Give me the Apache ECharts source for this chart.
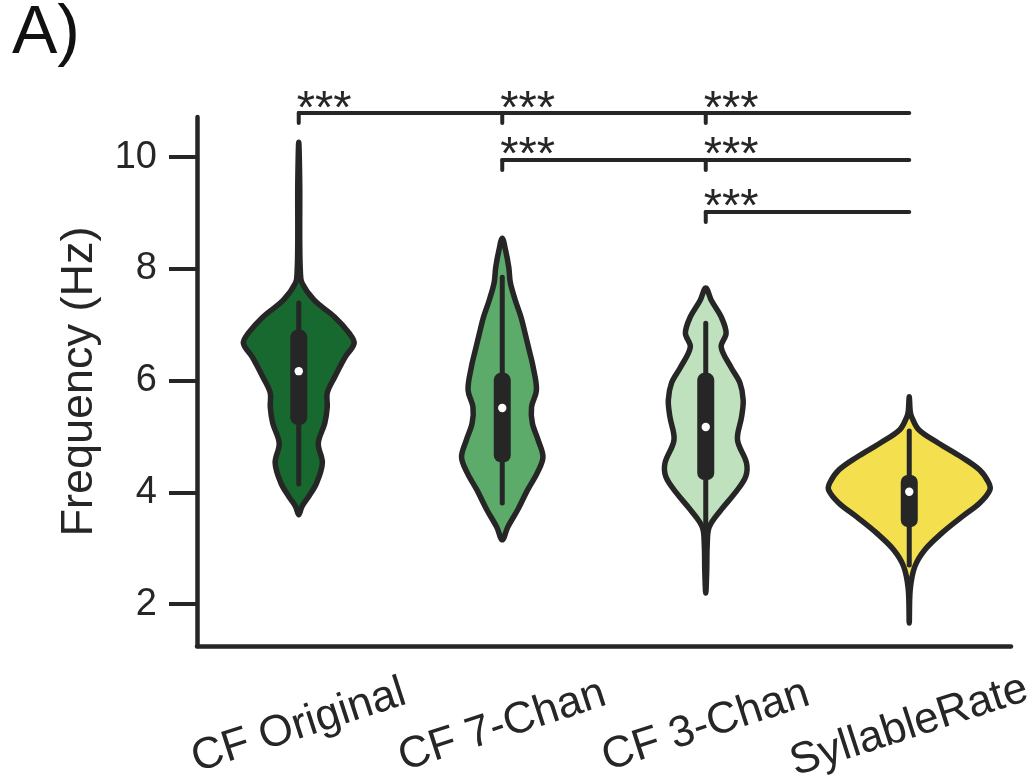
<!DOCTYPE html>
<html><head><meta charset="utf-8">
<script src="https://cdn.jsdelivr.net/npm/echarts@6/dist/echarts.min.js"></script>
<style>html,body{margin:0;padding:0;background:#fff}#c{width:1029px;height:777px}</style>
</head><body><div id="c"></div>
<script>
// ---------- data ----------
const categories = ['CF Original', 'CF 7-Chan', 'CF 3-Chan', 'SyllableRate'];
const yTicks = [2, 4, 6, 8, 10];

// violin density profiles (value level, relative density)
const origLevels   = [10.27, 9.5, 8.5, 7.95, 7.75, 7.44, 7.14, 6.85, 6.67, 6.42, 6.06, 5.78, 5.53, 5.24, 4.88, 4.53, 4.17, 3.92, 3.75, 3.60];
const origDensity  = [0, 0.012, 0.012, 0.02, 0.04, 0.19, 0.44, 0.62, 0.68, 0.57, 0.44, 0.35, 0.35, 0.32, 0.24, 0.29, 0.22, 0.12, 0.04, 0];
const chan7Levels  = [8.55, 8.34, 8.03, 7.75, 7.44, 7.14, 6.85, 6.55, 6.24, 5.83, 5.53, 5.24, 4.94, 4.63, 4.35, 4.04, 3.69, 3.38, 3.15];
const chan7Density = [0, 0.04, 0.08, 0.10, 0.16, 0.23, 0.28, 0.33, 0.38, 0.42, 0.36, 0.37, 0.44, 0.50, 0.43, 0.31, 0.19, 0.068, 0];
const chan3Levels  = [7.66, 7.44, 7.14, 6.85, 6.60, 6.24, 5.96, 5.65, 5.35, 4.94, 4.53, 4.28, 3.99, 3.69, 3.38, 3.06, 2.60, 2.20];
const chan3Density = [0, 0.068, 0.19, 0.25, 0.19, 0.31, 0.42, 0.46, 0.44, 0.39, 0.50, 0.49, 0.36, 0.19, 0.043, 0.018, 0.012, 0];
const syllLevels   = [5.71, 5.45, 5.35, 5.12, 4.88, 4.63, 4.40, 4.17, 4.04, 3.81, 3.56, 3.27, 2.97, 2.67, 2.26, 1.66];
const syllDensity  = [0, 0.012, 0.03, 0.117, 0.36, 0.645, 0.866, 0.977, 0.99, 0.866, 0.645, 0.40, 0.19, 0.068, 0.012, 0];

// inner box statistics
const whiskerLow  = [4.15, 3.81, 3.35, 2.70];
const quart1      = [5.21, 4.54, 4.22, 3.38];
const medians     = [6.17, 5.51, 5.17, 4.01];
const quart3      = [6.91, 6.14, 6.14, 4.31];
const whiskerHigh = [7.39, 7.85, 7.03, 5.10];

// significance brackets
const bracketLevel = [10.79, 9.95, 9.02];
const bracketStart = [0, 1, 2];
const bracketEnd   = [3, 3, 3];
const starText = '***';

// ---------- styles ----------
const fills = ['#18692f', '#5dab6b', '#bfe1be', '#f4df4f'];
const ink = '#262626';
const FONT = '"Liberation Sans", Arial, sans-serif';

const levelsAll = [origLevels, chan7Levels, chan3Levels, syllLevels];
const densAll = [origDensity, chan7Density, chan3Density, syllDensity];

const chart = echarts.init(document.getElementById('c'), null, {renderer: 'canvas'});

function violinItem(params, api) {
  const i = api.value(0);
  const lv = levelsAll[i], dn = densAll[i];
  const band = api.size([1, 0])[0];
  const scale = band * 0.4;
  const cx = api.coord([i, 0])[0];
  const right = [], left = [];
  for (let k = 0; k < lv.length; k++) {
    const y = api.coord([i, lv[k]])[1];
    const w = dn[k] * scale;
    right.push([cx + w, y]);
    if (k > 0 && k < lv.length - 1) left.unshift([cx - w, y]);
  }
  return {
    type: 'polygon',
    shape: {points: right.concat(left), smooth: 0.35},
    style: {fill: fills[i], stroke: ink, lineWidth: 5.5, lineJoin: 'round'}
  };
}

function boxItem(params, api) {
  const i = api.value(0);
  const lo = api.coord([i, whiskerLow[i]]);
  const hi = api.coord([i, whiskerHigh[i]]);
  const q1 = api.coord([i, quart1[i]]);
  const q3 = api.coord([i, quart3[i]]);
  const md = api.coord([i, medians[i]]);
  const bw = 17;
  return {
    type: 'group',
    children: [
      {type: 'line', shape: {x1: lo[0], y1: lo[1], x2: hi[0], y2: hi[1]}, style: {stroke: ink, lineWidth: 5, lineCap: 'round'}},
      {type: 'rect', shape: {x: q3[0] - bw / 2, y: q3[1], width: bw, height: q1[1] - q3[1], r: 7}, style: {fill: ink}},
      {type: 'circle', shape: {cx: md[0], cy: md[1], r: 4.2}, style: {fill: '#ffffff'}}
    ]
  };
}

function bracketItem(params, api) {
  const s = api.value(0), e = api.value(1), lvl = api.value(2);
  const p0 = api.coord([s, lvl]);
  const p1 = api.coord([e, lvl]);
  const drop = 10;
  const children = [
    {type: 'line', shape: {x1: p0[0], y1: p0[1], x2: p1[0], y2: p1[1]}, style: {stroke: ink, lineWidth: 4, lineCap: 'round'}}
  ];
  for (let t = s; t < e; t++) {
    const pt = api.coord([t, lvl]);
    children.push({type: 'line', shape: {x1: pt[0], y1: pt[1], x2: pt[0], y2: pt[1] + drop}, style: {stroke: ink, lineWidth: 4, lineCap: 'round'}});
    children.push({type: 'text', style: {text: starText, x: pt[0] - 2, y: pt[1] + 20, textAlign: 'left', textVerticalAlign: 'bottom', font: '47px ' + FONT, fill: ink}});
  }
  return {type: 'group', children};
}

const option = {
  animation: false,
  backgroundColor: '#ffffff',
  grid: {left: 197, right: 18, top: 117, bottom: 131, containLabel: false, outerBoundsMode: 'none'},
  graphic: [{type: 'text', left: 12, top: 0, style: {text: 'A)', font: '68px ' + FONT, fill: '#111111'}}],
  xAxis: {
    type: 'category', data: categories, boundaryGap: true,
    axisLine: {lineStyle: {color: ink, width: 4.5}},
    axisTick: {show: false},
    axisLabel: {rotate: 18, align: 'center', verticalAlign: 'middle', margin: 80, fontSize: 44, fontFamily: FONT, color: ink, interval: 0}
  },
  yAxis: {
    type: 'value', min: 1.25, max: 10.72,
    name: 'Frequency (Hz)', nameLocation: 'middle', nameGap: 95,
    nameTextStyle: {fontSize: 45, fontFamily: FONT, color: ink},
    splitLine: {show: false},
    axisLine: {show: true, lineStyle: {color: ink, width: 4.5}},
    axisTick: {show: true, length: 28, lineStyle: {color: ink, width: 4}, customValues: yTicks},
    axisLabel: {fontSize: 38, fontFamily: FONT, color: ink, margin: 40, customValues: yTicks}
  },
  series: [
    {type: 'custom', coordinateSystem: 'cartesian2d', renderItem: violinItem, data: categories.map((c, i) => [i, medians[i]]), encode: {x: 0, y: 1}, clip: false, z: 2},
    {type: 'custom', coordinateSystem: 'cartesian2d', renderItem: boxItem, data: categories.map((c, i) => [i, medians[i]]), encode: {x: 0, y: 1}, clip: false, z: 3},
    {type: 'custom', coordinateSystem: 'cartesian2d', renderItem: bracketItem, data: bracketLevel.map((l, i) => [bracketStart[i], bracketEnd[i], l]), encode: {x: 0, y: 2}, clip: false, z: 4}
  ]
};
chart.setOption(option);
</script>
</body></html>
